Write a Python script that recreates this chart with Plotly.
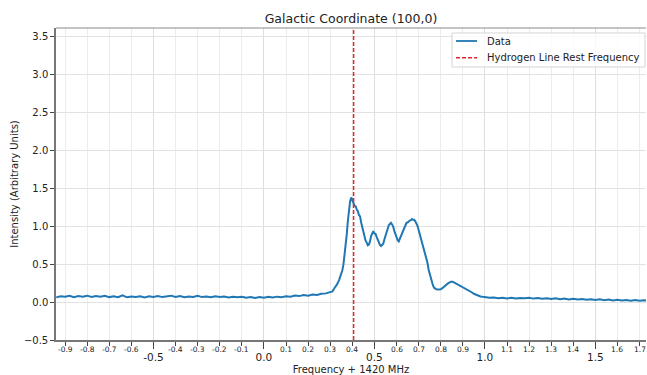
import plotly.graph_objects as go

# Spectrum offset from 1420 MHz (MHz) and measured intensity
freq_offset = [
    -0.94, -0.92, -0.90, -0.88, -0.86, -0.84, -0.82, -0.80, -0.78, -0.76,
    -0.74, -0.72, -0.70, -0.68, -0.66, -0.64, -0.62, -0.60, -0.58, -0.56,
    -0.54, -0.52, -0.50, -0.48, -0.46, -0.44, -0.42, -0.40, -0.38, -0.36,
    -0.34, -0.32, -0.30, -0.28, -0.26, -0.24, -0.22, -0.20, -0.18, -0.16,
    -0.14, -0.12, -0.10, -0.08, -0.06, -0.04, -0.02, 0.00, 0.02, 0.04,
    0.06, 0.08, 0.10, 0.12, 0.14, 0.16, 0.18, 0.20, 0.22, 0.24,
    0.26, 0.28, 0.30, 0.31, 0.32, 0.33, 0.34, 0.35, 0.355, 0.36,
    0.365, 0.37, 0.375, 0.38, 0.385, 0.39, 0.395, 0.40, 0.405, 0.41,
    0.415, 0.42, 0.425, 0.43, 0.435, 0.44, 0.445, 0.45, 0.455, 0.46,
    0.465, 0.47, 0.475, 0.48, 0.485, 0.49, 0.495, 0.50, 0.505, 0.51,
    0.515, 0.52, 0.525, 0.53, 0.535, 0.54, 0.545, 0.55, 0.555, 0.56,
    0.565, 0.57, 0.575, 0.58, 0.585, 0.59, 0.595, 0.60, 0.605, 0.61,
    0.615, 0.62, 0.625, 0.63, 0.635, 0.64, 0.645, 0.65, 0.655, 0.66,
    0.665, 0.67, 0.675, 0.68, 0.685, 0.69, 0.695, 0.70, 0.705, 0.71,
    0.715, 0.72, 0.725, 0.73, 0.735, 0.74, 0.745, 0.75, 0.755, 0.76,
    0.765, 0.77, 0.78, 0.79, 0.80, 0.81, 0.82, 0.83, 0.84, 0.85,
    0.86, 0.87, 0.88, 0.89, 0.90, 0.91, 0.92, 0.93, 0.94, 0.95,
    0.96, 0.97, 0.98, 0.99, 1.00, 1.02, 1.04, 1.06, 1.08, 1.10,
    1.12, 1.14, 1.16, 1.18, 1.20, 1.22, 1.24, 1.26, 1.28, 1.30,
    1.32, 1.34, 1.36, 1.38, 1.40, 1.42, 1.44, 1.46, 1.48, 1.50,
    1.52, 1.54, 1.56, 1.58, 1.60, 1.62, 1.64, 1.66, 1.68, 1.70,
    1.72, 1.73,
]
intensity = [
    0.062, 0.078, 0.070, 0.082, 0.066, 0.080, 0.072, 0.085, 0.068, 0.079,
    0.071, 0.083, 0.066, 0.077, 0.064, 0.090, 0.063, 0.074, 0.067, 0.078,
    0.062, 0.076, 0.069, 0.081, 0.066, 0.077, 0.085, 0.068, 0.079, 0.064,
    0.075, 0.069, 0.082, 0.066, 0.074, 0.063, 0.077, 0.067, 0.073, 0.061,
    0.070, 0.064, 0.071, 0.058, 0.067, 0.055, 0.066, 0.058, 0.069, 0.060,
    0.072, 0.065, 0.078, 0.071, 0.086, 0.079, 0.092, 0.085, 0.099, 0.094,
    0.110, 0.115, 0.125, 0.140, 0.190, 0.230, 0.290, 0.360, 0.420, 0.500,
    0.620, 0.760, 0.900, 1.080, 1.220, 1.330, 1.380, 1.330, 1.310, 1.270,
    1.265, 1.220, 1.200, 1.150, 1.130, 1.050, 0.990, 0.920, 0.870, 0.810,
    0.785, 0.750, 0.760, 0.800, 0.870, 0.920, 0.935, 0.905, 0.900, 0.860,
    0.815, 0.770, 0.755, 0.740, 0.755, 0.770, 0.825, 0.880, 0.935, 0.980,
    1.015, 1.030, 1.045, 1.025, 0.995, 0.940, 0.895, 0.850, 0.815, 0.800,
    0.835, 0.875, 0.925, 0.955, 0.995, 1.020, 1.045, 1.050, 1.070, 1.075,
    1.080, 1.095, 1.085, 1.085, 1.065, 1.040, 1.005, 0.950, 0.900, 0.850,
    0.800, 0.740, 0.690, 0.640, 0.600, 0.520, 0.430, 0.370, 0.310, 0.260,
    0.220, 0.190, 0.170, 0.165, 0.170, 0.190, 0.220, 0.240, 0.260, 0.270,
    0.260, 0.245, 0.230, 0.215, 0.200, 0.185, 0.170, 0.150, 0.130, 0.110,
    0.095, 0.085, 0.075, 0.070, 0.065, 0.058, 0.062, 0.052, 0.058, 0.049,
    0.056, 0.047, 0.055, 0.050, 0.057, 0.046, 0.054, 0.045, 0.052, 0.040,
    0.049, 0.038, 0.046, 0.035, 0.043, 0.033, 0.040, 0.030, 0.038, 0.028,
    0.036, 0.026, 0.033, 0.022, 0.031, 0.020, 0.028, 0.019, 0.027, 0.017,
    0.025, 0.020,
]

# Hydrogen 21 cm line rest frequency, offset from 1420 MHz
hydrogen_rest = 0.40575

# Axis ticks
major_x_ticks = [-0.5, 0.0, 0.5, 1.0, 1.5]
major_x_labels = ["-0.5", "0.0", "0.5", "1.0", "1.5"]
minor_x_ticks = [-0.9, -0.8, -0.7, -0.6, -0.4, -0.3, -0.2, -0.1, 0.1, 0.2,
                 0.3, 0.4, 0.6, 0.7, 0.8, 0.9, 1.1, 1.2, 1.3, 1.4, 1.6, 1.7]
minor_x_labels = ["-0.9", "-0.8", "-0.7", "-0.6", "-0.4", "-0.3", "-0.2", "-0.1",
                  "0.1", "0.2", "0.3", "0.4", "0.6", "0.7", "0.8", "0.9",
                  "1.1", "1.2", "1.3", "1.4", "1.6", "1.7"]
y_ticks = [-0.5, 0.0, 0.5, 1.0, 1.5, 2.0, 2.5, 3.0, 3.5]
y_labels = ["\u22120.5", "0.0", "0.5", "1.0", "1.5", "2.0", "2.5", "3.0", "3.5"]

legend_names = ["Data", "Hydrogen Line Rest Frequency"]

FONT = "DejaVu Sans"
BLUE = "#1f77b4"
RED = "#e8242a"
DASH = "4px,2px"

fig = go.Figure()
fig.add_trace(go.Scatter(
    x=freq_offset, y=intensity, mode="lines", name=legend_names[0],
    line=dict(color=BLUE, width=2), showlegend=False,
))
fig.add_shape(type="line", xref="x", yref="y domain",
              x0=hydrogen_rest, x1=hydrogen_rest, y0=0, y1=1,
              line=dict(color=RED, width=1.5, dash=DASH))
# top frame line
fig.add_shape(type="line", xref="paper", yref="paper", x0=0, x1=1, y0=1, y1=1,
              line=dict(color="#8a8a8a", width=1))

# compact legend box in the upper-right corner
fig.add_shape(type="rect", xref="paper", yref="paper",
              x0=0.6712, x1=0.9983, y0=0.875, y1=0.984,
              line=dict(color="#d5d5d5", width=1),
              fillcolor="rgba(255,255,255,0.8)", layer="above")
legend_rows = [0.9583, 0.9048]
legend_styles = [dict(color=BLUE, width=1.8), dict(color=RED, width=1.5, dash=DASH)]
for ry, style, name in zip(legend_rows, legend_styles, legend_names):
    fig.add_shape(type="line", xref="paper", yref="paper",
                  x0=0.678, x1=0.7136, y0=ry, y1=ry, line=style, layer="above")
    fig.add_annotation(x=0.7288, y=ry, xref="paper", yref="paper", text=name,
                       showarrow=False, xanchor="left", yanchor="middle",
                       borderpad=0,
                       font=dict(family=FONT, size=10, color="#222"))

for xv, txt in zip(minor_x_ticks, minor_x_labels):
    fig.add_annotation(x=xv, y=0, xref="x", yref="paper", text=txt,
                       showarrow=False, yanchor="top", yshift=-3,
                       font=dict(family=FONT, size=7.5, color="#222"))

fig.update_layout(
    width=647, height=375,
    margin=dict(l=56, r=1, t=28, b=35),
    paper_bgcolor="white", plot_bgcolor="white",
    font=dict(family=FONT, color="#222"),
    title=dict(text="Galactic Coordinate (100,0)", x=0.5425, xanchor="center",
               y=1 - 18.5 / 375, yanchor="middle",
               font=dict(family=FONT, size=12.5, color="#222")),
    showlegend=False,
)
fig.update_xaxes(
    range=[-0.941, 1.729], tickmode="array", tickvals=major_x_ticks,
    ticktext=major_x_labels, ticks="outside", ticklen=7, tickwidth=1,
    tickcolor="#444", tickfont=dict(family=FONT, size=10.5, color="#222"),
    showline=True, linecolor="#777", linewidth=1.5,
    showgrid=True, gridcolor="#dedede", gridwidth=1, zeroline=False,
    minor=dict(tickmode="array",
               tickvals=minor_x_ticks, ticks="outside", ticklen=4,
               tickcolor="#444", showgrid=True, gridcolor="#ececec", gridwidth=1),
    title=dict(text="Frequency + 1420 MHz", standoff=4,
               font=dict(family=FONT, size=10, color="#222")),
    automargin=False,
)
fig.update_yaxes(
    range=[-0.5, 3.616], tickmode="array", tickvals=y_ticks, ticktext=y_labels,
    ticks="outside", ticklen=4, tickwidth=1, tickcolor="#444",
    tickfont=dict(family=FONT, size=10, color="#222"),
    showline=True, linecolor="#777", linewidth=1.5,
    showgrid=True, gridcolor="#e2e2e2", gridwidth=1, zeroline=False,
    title=dict(text="Intensity (Arbitrary Units)", standoff=3,
               font=dict(family=FONT, size=10, color="#222")),
    automargin=False,
)

fig.write_html("out.html")
